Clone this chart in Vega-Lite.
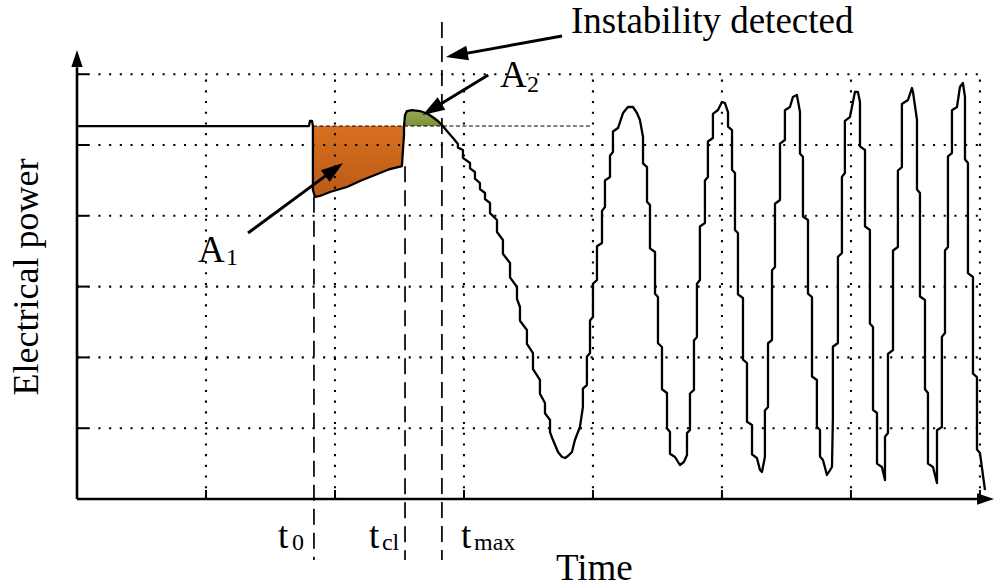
{
  "$schema": "https://vega.github.io/schema/vega-lite/v6.json",
  "description": "Transient stability: electrical power after a fault, with equal-area regions A1 and A2 and the fault, clearing and maximum-angle instants.",
  "width": 917,
  "height": 449,
  "autosize": {"type": "none"},
  "padding": {"left": 77, "top": 50, "right": 0, "bottom": 88},
  "background": "white",
  "config": {"view": {"stroke": null}},
  "datasets": {
    "curve": [
      {"t": 0, "p": 5.268}, {"t": 1.798, "p": 5.268}, {"t": 1.806, "p": 5.339}, {"t": 1.822, "p": 5.339},
      {"t": 1.829, "p": 5.268}, {"t": 1.829, "p": 4.364}, {"t": 1.845, "p": 4.266}, {"t": 1.884, "p": 4.28},
      {"t": 1.961, "p": 4.336}, {"t": 2.093, "p": 4.407}, {"t": 2.194, "p": 4.492}, {"t": 2.271, "p": 4.548},
      {"t": 2.349, "p": 4.605}, {"t": 2.426, "p": 4.661}, {"t": 2.519, "p": 4.703}, {"t": 2.527, "p": 4.929},
      {"t": 2.535, "p": 5.141}, {"t": 2.535, "p": 5.268}, {"t": 2.543, "p": 5.424}, {"t": 2.558, "p": 5.48},
      {"t": 2.597, "p": 5.494}, {"t": 2.659, "p": 5.48}, {"t": 2.721, "p": 5.438}, {"t": 2.767, "p": 5.381},
      {"t": 2.798, "p": 5.339}, {"t": 2.829, "p": 5.282}, {"t": 2.868, "p": 5.198}, {"t": 2.915, "p": 5.099},
      {"t": 2.953, "p": 5.014}, {"t": 2.953, "p": 4.963}, {"t": 2.992, "p": 4.929}, {"t": 2.992, "p": 4.819},
      {"t": 3.047, "p": 4.746}, {"t": 3.047, "p": 4.67}, {"t": 3.085, "p": 4.619}, {"t": 3.085, "p": 4.525},
      {"t": 3.124, "p": 4.463}, {"t": 3.124, "p": 4.378}, {"t": 3.163, "p": 4.322}, {"t": 3.163, "p": 4.237},
      {"t": 3.202, "p": 4.181}, {"t": 3.202, "p": 4.037}, {"t": 3.256, "p": 3.941}, {"t": 3.256, "p": 3.771},
      {"t": 3.302, "p": 3.658}, {"t": 3.302, "p": 3.463}, {"t": 3.357, "p": 3.333}, {"t": 3.357, "p": 3.13},
      {"t": 3.411, "p": 2.994}, {"t": 3.411, "p": 2.825}, {"t": 3.434, "p": 2.712}, {"t": 3.434, "p": 2.517},
      {"t": 3.488, "p": 2.387}, {"t": 3.488, "p": 2.192}, {"t": 3.535, "p": 2.062}, {"t": 3.535, "p": 1.833},
      {"t": 3.589, "p": 1.681}, {"t": 3.589, "p": 1.486}, {"t": 3.628, "p": 1.356}, {"t": 3.628, "p": 1.212},
      {"t": 3.667, "p": 1.116}, {"t": 3.667, "p": 0.946}, {"t": 3.69, "p": 0.833}, {"t": 3.729, "p": 0.664},
      {"t": 3.76, "p": 0.593}, {"t": 3.783, "p": 0.579}, {"t": 3.806, "p": 0.607}, {"t": 3.837, "p": 0.664},
      {"t": 3.86, "p": 0.833}, {"t": 3.899, "p": 1.017}, {"t": 3.922, "p": 1.299}, {"t": 3.922, "p": 1.56},
      {"t": 3.953, "p": 1.61}, {"t": 3.953, "p": 2.01}, {"t": 3.977, "p": 2.062}, {"t": 3.977, "p": 2.52},
      {"t": 4.0, "p": 2.571}, {"t": 4.0, "p": 3.04}, {"t": 4.031, "p": 3.093}, {"t": 4.031, "p": 3.57},
      {"t": 4.07, "p": 3.616}, {"t": 4.07, "p": 4.07}, {"t": 4.093, "p": 4.124}, {"t": 4.093, "p": 4.5},
      {"t": 4.132, "p": 4.548}, {"t": 4.132, "p": 4.85}, {"t": 4.155, "p": 4.901}, {"t": 4.155, "p": 5.19},
      {"t": 4.194, "p": 5.24}, {"t": 4.233, "p": 5.452}, {"t": 4.271, "p": 5.537}, {"t": 4.31, "p": 5.537},
      {"t": 4.341, "p": 5.452}, {"t": 4.364, "p": 5.353}, {"t": 4.388, "p": 5.113}, {"t": 4.388, "p": 4.74},
      {"t": 4.419, "p": 4.689}, {"t": 4.419, "p": 4.2}, {"t": 4.442, "p": 4.153}, {"t": 4.442, "p": 3.54},
      {"t": 4.481, "p": 3.489}, {"t": 4.481, "p": 2.9}, {"t": 4.504, "p": 2.853}, {"t": 4.504, "p": 2.2},
      {"t": 4.535, "p": 2.147}, {"t": 4.535, "p": 1.55}, {"t": 4.574, "p": 1.497}, {"t": 4.574, "p": 1.0},
      {"t": 4.597, "p": 0.946}, {"t": 4.597, "p": 0.64}, {"t": 4.636, "p": 0.593}, {"t": 4.674, "p": 0.48},
      {"t": 4.705, "p": 0.523}, {"t": 4.729, "p": 0.621}, {"t": 4.729, "p": 0.93}, {"t": 4.752, "p": 0.975},
      {"t": 4.752, "p": 1.49}, {"t": 4.783, "p": 1.54}, {"t": 4.783, "p": 2.24}, {"t": 4.806, "p": 2.288},
      {"t": 4.806, "p": 3.04}, {"t": 4.829, "p": 3.093}, {"t": 4.829, "p": 3.85}, {"t": 4.868, "p": 3.898},
      {"t": 4.868, "p": 4.5}, {"t": 4.891, "p": 4.548}, {"t": 4.891, "p": 5.05}, {"t": 4.93, "p": 5.099},
      {"t": 4.93, "p": 5.44}, {"t": 4.969, "p": 5.494}, {"t": 5.0, "p": 5.607}, {"t": 5.023, "p": 5.593},
      {"t": 5.047, "p": 5.466}, {"t": 5.047, "p": 5.26}, {"t": 5.078, "p": 5.212}, {"t": 5.078, "p": 4.65},
      {"t": 5.101, "p": 4.605}, {"t": 5.101, "p": 3.8}, {"t": 5.124, "p": 3.757}, {"t": 5.124, "p": 2.89},
      {"t": 5.163, "p": 2.839}, {"t": 5.163, "p": 1.97}, {"t": 5.194, "p": 1.921}, {"t": 5.194, "p": 1.09},
      {"t": 5.233, "p": 1.045}, {"t": 5.233, "p": 0.63}, {"t": 5.271, "p": 0.579}, {"t": 5.295, "p": 0.41},
      {"t": 5.31, "p": 0.381}, {"t": 5.333, "p": 0.593}, {"t": 5.333, "p": 1.25}, {"t": 5.357, "p": 1.299},
      {"t": 5.357, "p": 2.2}, {"t": 5.388, "p": 2.246}, {"t": 5.388, "p": 3.23}, {"t": 5.411, "p": 3.277},
      {"t": 5.411, "p": 4.17}, {"t": 5.45, "p": 4.223}, {"t": 5.45, "p": 5.02}, {"t": 5.488, "p": 5.071},
      {"t": 5.488, "p": 5.49}, {"t": 5.527, "p": 5.537}, {"t": 5.55, "p": 5.678}, {"t": 5.581, "p": 5.706},
      {"t": 5.605, "p": 5.466}, {"t": 5.605, "p": 4.88}, {"t": 5.628, "p": 4.831}, {"t": 5.628, "p": 3.99},
      {"t": 5.667, "p": 3.941}, {"t": 5.667, "p": 2.9}, {"t": 5.698, "p": 2.853}, {"t": 5.698, "p": 1.73},
      {"t": 5.736, "p": 1.681}, {"t": 5.736, "p": 1.02}, {"t": 5.76, "p": 0.975}, {"t": 5.76, "p": 0.6},
      {"t": 5.783, "p": 0.551}, {"t": 5.814, "p": 0.339}, {"t": 5.853, "p": 0.452}, {"t": 5.86, "p": 1.144},
      {"t": 5.86, "p": 2.15}, {"t": 5.899, "p": 2.203}, {"t": 5.899, "p": 3.42}, {"t": 5.93, "p": 3.475},
      {"t": 5.93, "p": 4.55}, {"t": 5.953, "p": 4.605}, {"t": 5.953, "p": 5.34}, {"t": 5.992, "p": 5.395},
      {"t": 6.031, "p": 5.749}, {"t": 6.054, "p": 5.749}, {"t": 6.07, "p": 5.607}, {"t": 6.07, "p": 4.98},
      {"t": 6.109, "p": 4.929}, {"t": 6.109, "p": 3.85}, {"t": 6.147, "p": 3.799}, {"t": 6.147, "p": 2.48},
      {"t": 6.171, "p": 2.429}, {"t": 6.171, "p": 1.26}, {"t": 6.202, "p": 1.215}, {"t": 6.202, "p": 0.5},
      {"t": 6.24, "p": 0.452}, {"t": 6.264, "p": 0.268}, {"t": 6.264, "p": 0.88}, {"t": 6.287, "p": 0.932},
      {"t": 6.287, "p": 2.05}, {"t": 6.326, "p": 2.105}, {"t": 6.326, "p": 3.51}, {"t": 6.364, "p": 3.559},
      {"t": 6.364, "p": 4.64}, {"t": 6.395, "p": 4.689}, {"t": 6.395, "p": 5.58}, {"t": 6.442, "p": 5.636},
      {"t": 6.473, "p": 5.805}, {"t": 6.481, "p": 5.749}, {"t": 6.512, "p": 5.353}, {"t": 6.512, "p": 4.37},
      {"t": 6.535, "p": 4.322}, {"t": 6.535, "p": 2.86}, {"t": 6.574, "p": 2.811}, {"t": 6.574, "p": 1.55},
      {"t": 6.597, "p": 1.497}, {"t": 6.597, "p": 0.5}, {"t": 6.636, "p": 0.452}, {"t": 6.667, "p": 0.226},
      {"t": 6.667, "p": 0.97}, {"t": 6.705, "p": 1.017}, {"t": 6.705, "p": 2.29}, {"t": 6.729, "p": 2.345},
      {"t": 6.729, "p": 3.51}, {"t": 6.752, "p": 3.559}, {"t": 6.752, "p": 4.84}, {"t": 6.783, "p": 4.887},
      {"t": 6.783, "p": 5.49}, {"t": 6.822, "p": 5.537}, {"t": 6.845, "p": 5.819}, {"t": 6.868, "p": 5.876},
      {"t": 6.884, "p": 5.678}, {"t": 6.884, "p": 4.8}, {"t": 6.907, "p": 4.746}, {"t": 6.907, "p": 3.19},
      {"t": 6.946, "p": 3.136}, {"t": 6.946, "p": 1.77}, {"t": 6.977, "p": 1.723}, {"t": 6.977, "p": 0.7},
      {"t": 7.0, "p": 0.65}, {"t": 7.039, "p": 0.127}
    ],
    "areaA1": [
      {"t": 1.829, "p": 4.3}, {"t": 1.845, "p": 4.266}, {"t": 1.884, "p": 4.28}, {"t": 1.961, "p": 4.336},
      {"t": 2.093, "p": 4.407}, {"t": 2.194, "p": 4.492}, {"t": 2.271, "p": 4.548}, {"t": 2.349, "p": 4.605},
      {"t": 2.426, "p": 4.661}, {"t": 2.519, "p": 4.703}, {"t": 2.527, "p": 4.929}, {"t": 2.535, "p": 5.141},
      {"t": 2.536, "p": 5.268}
    ],
    "areaA2": [
      {"t": 2.535, "p": 5.268}, {"t": 2.543, "p": 5.424}, {"t": 2.558, "p": 5.48}, {"t": 2.597, "p": 5.494},
      {"t": 2.659, "p": 5.48}, {"t": 2.721, "p": 5.438}, {"t": 2.767, "p": 5.381}, {"t": 2.798, "p": 5.339},
      {"t": 2.829, "p": 5.282}, {"t": 2.84, "p": 5.268}
    ],
    "grid": [
      {"t": 1, "p": 0, "t2": 1, "p2": 6}, {"t": 2, "p": 0, "t2": 2, "p2": 6}, {"t": 3, "p": 0, "t2": 3, "p2": 6},
      {"t": 4, "p": 0, "t2": 4, "p2": 6}, {"t": 5, "p": 0, "t2": 5, "p2": 6}, {"t": 6, "p": 0, "t2": 6, "p2": 6},
      {"t": 7, "p": 0, "t2": 7, "p2": 6},
      {"t": 0, "p": 1, "t2": 7, "p2": 1}, {"t": 0, "p": 2, "t2": 7, "p2": 2}, {"t": 0, "p": 3, "t2": 7, "p2": 3},
      {"t": 0, "p": 4, "t2": 7, "p2": 4}, {"t": 0, "p": 5, "t2": 7, "p2": 5}, {"t": 0, "p": 6, "t2": 7, "p2": 6}
    ],
    "ticks": [
      {"t": 0, "p": 1, "t2": 0.085, "p2": 1}, {"t": 0, "p": 2, "t2": 0.085, "p2": 2}, {"t": 0, "p": 3, "t2": 0.085, "p2": 3},
      {"t": 0, "p": 4, "t2": 0.085, "p2": 4}, {"t": 0, "p": 5, "t2": 0.085, "p2": 5}, {"t": 0, "p": 6, "t2": 0.085, "p2": 6},
      {"t": 1, "p": 0, "t2": 1, "p2": 0.127}, {"t": 2, "p": 0, "t2": 2, "p2": 0.127}, {"t": 3, "p": 0, "t2": 3, "p2": 0.127},
      {"t": 4, "p": 0, "t2": 4, "p2": 0.127}, {"t": 5, "p": 0, "t2": 5, "p2": 0.127}, {"t": 6, "p": 0, "t2": 6, "p2": 0.127},
      {"t": 7, "p": 0, "t2": 7, "p2": 0.127}
    ],
    "axes": [
      {"t": 0, "p": 0, "t2": 0, "p2": 6.1},
      {"t": 0, "p": 0, "t2": 7.03, "p2": 0}
    ],
    "axisHeads": [
      {"axis": "power", "t": 0, "p": 6.342},
      {"axis": "time", "t": 7.109, "p": 0}
    ],
    "instants": [
      {"name": "t0", "t": 1.837, "p": 4.27, "p2": -0.862},
      {"name": "tcl", "t": 2.543, "p": 4.7, "p2": -0.862},
      {"name": "tmax", "t": 2.829, "p": 6.737, "p2": -0.862}
    ],
    "prefault": [
      {"t": 1.829, "p": 5.268, "t2": 3.977, "p2": 5.268}
    ],
    "arrows": [
      {"name": "A1", "t": 1.326, "p": 3.757, "t2": 1.987, "p2": 4.645},
      {"name": "A2", "t": 3.188, "p": 5.989, "t2": 2.759, "p2": 5.513},
      {"name": "instability", "t": 3.76, "p": 6.54, "t2": 2.952, "p2": 6.273}
    ],
    "arrowHeads": [
      {"name": "A1", "t": 2.062, "p": 4.746},
      {"name": "A2", "t": 2.68, "p": 5.424},
      {"name": "instability", "t": 2.86, "p": 6.243}
    ],
    "labels": [
      {"text": "Instability detected", "role": "main", "t": 3.829, "p": 6.582},
      {"text": "A", "role": "main", "t": 0.938, "p": 3.347},
      {"text": "1", "role": "sub", "t": 1.155, "p": 3.305},
      {"text": "A", "role": "main", "t": 3.279, "p": 5.819},
      {"text": "2", "role": "sub", "t": 3.488, "p": 5.749},
      {"text": "t", "role": "main", "t": 1.558, "p": -0.692},
      {"text": "0", "role": "sub", "t": 1.667, "p": -0.72},
      {"text": "t", "role": "main", "t": 2.264, "p": -0.692},
      {"text": "cl", "role": "sub", "t": 2.364, "p": -0.72},
      {"text": "t", "role": "main", "t": 2.977, "p": -0.692},
      {"text": "max", "role": "sub", "t": 3.078, "p": -0.72},
      {"text": "Time", "role": "main", "t": 3.713, "p": -1.144}
    ],
    "yTitle": [
      {"text": "Electrical power", "t": -0.302, "p": 3.136}
    ]
  },
  "encoding": {
    "x": {"field": "t", "type": "quantitative", "scale": {"domain": [0, 7.109], "nice": false, "zero": false}, "axis": null},
    "y": {"field": "p", "type": "quantitative", "scale": {"domain": [0, 6.342], "nice": false, "zero": false}, "axis": null}
  },
  "layer": [
    {
      "data": {"name": "areaA1"},
      "mark": {"type": "area", "color": {"gradient": "linear", "x1": 0, "y1": 0, "x2": 0, "y2": 1, "stops": [{"offset": 0, "color": "#d8701f"}, {"offset": 1, "color": "#b95a17"}]}, "opacity": 1},
      "encoding": {"y2": {"datum": 5.268}}
    },
    {
      "data": {"name": "areaA2"},
      "mark": {"type": "area", "color": {"gradient": "linear", "x1": 0, "y1": 0, "x2": 0, "y2": 1, "stops": [{"offset": 0, "color": "#97aa52"}, {"offset": 1, "color": "#7d913c"}]}, "opacity": 1},
      "encoding": {"y2": {"datum": 5.268}}
    },
    {
      "data": {"name": "grid"},
      "mark": {"type": "rule", "color": "black", "strokeWidth": 2.1, "strokeDash": [2.1, 8.6], "strokeCap": "butt"},
      "encoding": {"x2": {"field": "t2"}, "y2": {"field": "p2"}}
    },
    {
      "data": {"name": "ticks"},
      "mark": {"type": "rule", "color": "black", "strokeWidth": 2},
      "encoding": {"x2": {"field": "t2"}, "y2": {"field": "p2"}}
    },
    {
      "data": {"name": "prefault"},
      "mark": {"type": "rule", "color": "black", "strokeWidth": 1, "strokeDash": [4, 2.5]},
      "encoding": {"x2": {"field": "t2"}, "y2": {"field": "p2"}}
    },
    {
      "data": {"name": "instants"},
      "mark": {"type": "rule", "color": "black", "strokeWidth": 1.7, "strokeDash": [16, 8]},
      "encoding": {"y2": {"field": "p2"}}
    },
    {
      "data": {"name": "curve"},
      "mark": {"type": "line", "color": "black", "strokeWidth": 2.3, "interpolate": "linear", "strokeJoin": "round"},
      "encoding": {"order": {"value": null}}
    },
    {
      "data": {"name": "axes"},
      "mark": {"type": "rule", "color": "black", "strokeWidth": 2.6},
      "encoding": {"x2": {"field": "t2"}, "y2": {"field": "p2"}}
    },
    {
      "data": {"name": "axisHeads"},
      "transform": [{"filter": "datum.axis === 'power'"}],
      "mark": {"type": "point", "shape": "M0,0L0.6,1.8L-0.6,1.8Z", "filled": true, "color": "black", "opacity": 1, "size": 354, "angle": 0}
    },
    {
      "data": {"name": "axisHeads"},
      "transform": [{"filter": "datum.axis === 'time'"}],
      "mark": {"type": "point", "shape": "M0,0L0.6,1.8L-0.6,1.8Z", "filled": true, "color": "black", "opacity": 1, "size": 354, "angle": 90}
    },
    {
      "data": {"name": "arrows"},
      "mark": {"type": "rule", "color": "black", "strokeWidth": 3},
      "encoding": {"x2": {"field": "t2"}, "y2": {"field": "p2"}}
    },
    {
      "data": {"name": "arrowHeads"},
      "transform": [{"filter": "datum.name === 'A1'"}],
      "mark": {"type": "point", "shape": "M0,0L0.6,1.8L-0.6,1.8Z", "filled": true, "color": "black", "opacity": 1, "size": 600, "angle": 53.6}
    },
    {
      "data": {"name": "arrowHeads"},
      "transform": [{"filter": "datum.name === 'A2'"}],
      "mark": {"type": "point", "shape": "M0,0L0.6,1.8L-0.6,1.8Z", "filled": true, "color": "black", "opacity": 1, "size": 600, "angle": 238.5}
    },
    {
      "data": {"name": "arrowHeads"},
      "transform": [{"filter": "datum.name === 'instability'"}],
      "mark": {"type": "point", "shape": "M0,0L0.6,1.8L-0.6,1.8Z", "filled": true, "color": "black", "opacity": 1, "size": 600, "angle": 259.7}
    },
    {
      "data": {"name": "labels"},
      "transform": [{"filter": "datum.role === 'main'"}],
      "mark": {"type": "text", "font": "Liberation Serif", "fontSize": 37, "align": "left", "baseline": "alphabetic", "color": "black"},
      "encoding": {"text": {"field": "text"}}
    },
    {
      "data": {"name": "labels"},
      "transform": [{"filter": "datum.role === 'sub'"}],
      "mark": {"type": "text", "font": "Liberation Serif", "fontSize": 24, "align": "left", "baseline": "alphabetic", "color": "black"},
      "encoding": {"text": {"field": "text"}}
    },
    {
      "data": {"name": "yTitle"},
      "mark": {"type": "text", "font": "Liberation Serif", "fontSize": 36, "align": "center", "baseline": "alphabetic", "angle": 270, "color": "black"},
      "encoding": {"text": {"field": "text"}}
    }
  ]
}
